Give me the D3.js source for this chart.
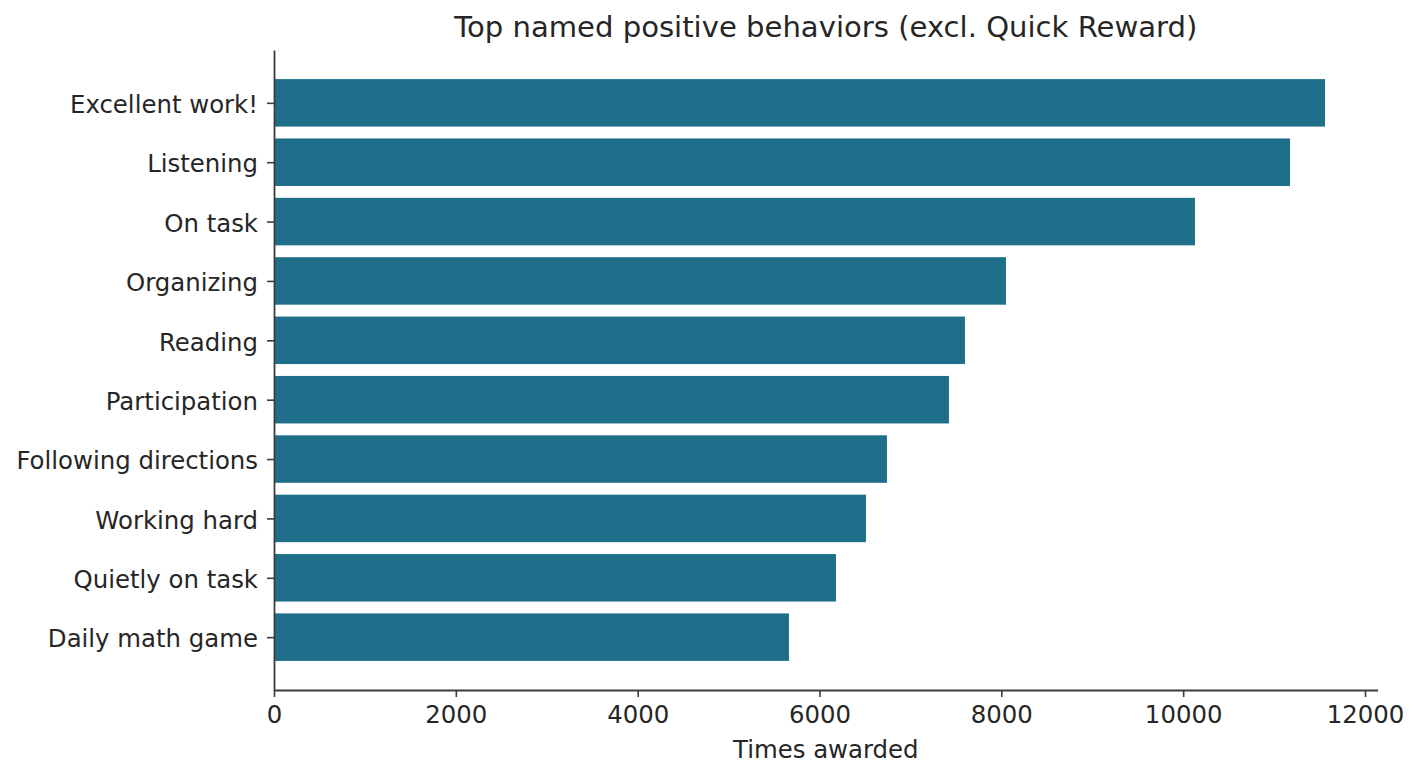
<!DOCTYPE html>
<html lang="en">

<head>
    <meta charset="UTF-8">
    <title>Top named positive behaviors</title>
    <script src="https://cdnjs.cloudflare.com/ajax/libs/d3/7.8.5/d3.min.js"></script>
    <style>
        * {
            margin: 0;
            padding: 0;
        }

        body {
            background: #fff;
            font-family: "DejaVu Sans", sans-serif;
        }

        text {
            fill: #262626;
        }

        .domain,
        .tick line {
            stroke: #3d3d3d;
        }
    </style>
</head>

<body>
    <svg id="chart" width="1419" height="778"></svg>

    <script>
        // data
        const behaviors = [
            "Excellent work!",
            "Listening",
            "On task",
            "Organizing",
            "Reading",
            "Participation",
            "Following directions",
            "Working hard",
            "Quietly on task",
            "Daily math game"
        ];
        const timesAwarded = [11560, 11175, 10130, 8051, 7600, 7424, 6742, 6511, 6181, 5664];
        const xTicks = [0, 2000, 4000, 6000, 8000, 10000, 12000];

        const W = 1419, H = 778;
        const m = { top: 50, right: 41, bottom: 88, left: 274 };
        const barH = 0.8;
        const fs = "24.4px";

        const svg = d3.select("#chart");

        // x like matplotlib: 5% margin past the largest bar
        const xMax = d3.max(timesAwarded) * 1.05;
        const x = d3.scaleLinear()
            .domain([0, xMax])
            .range([m.left, m.left + (xMax / 12000) * 1091]);

        // y positions 0..n-1, first one at top, with 5% margins
        const n = behaviors.length;
        const span = (n - 1) + barH;
        const y = d3.scaleLinear()
            .domain([-barH / 2 - 0.05 * span, n - 1 + barH / 2 + 0.05 * span])
            .range([m.top, H - m.bottom]);

        const data = behaviors.map((b, i) => ({ name: b, value: timesAwarded[i], i: i }));

        // bars
        svg.append("g")
            .selectAll("rect")
            .data(data)
            .join("rect")
            .attr("x", x(0))
            .attr("y", d => y(d.i - barH / 2))
            .attr("width", d => x(d.value) - x(0))
            .attr("height", d => y(barH) - y(0))
            .attr("fill", "#1f6f8b");

        // x axis
        const xAxis = svg.append("g")
            .attr("transform", `translate(0,${H - m.bottom})`)
            .call(d3.axisBottom(x)
                .tickValues(xTicks)
                .tickFormat(d3.format("d"))
                .tickSizeInner(7)
                .tickSizeOuter(0)
                .tickPadding(9));

        xAxis.select(".domain").attr("stroke-width", 1.8);
        xAxis.selectAll(".tick line").attr("stroke-width", 1.6);
        xAxis.selectAll(".tick text")
            .attr("font-size", fs)
            .attr("font-family", "DejaVu Sans")
            .attr("fill", "#262626");

        // y axis
        const yAxis = svg.append("g")
            .attr("transform", `translate(${m.left},0)`)
            .call(d3.axisLeft(y)
                .tickValues(d3.range(n))
                .tickFormat(i => behaviors[i])
                .tickSizeInner(7)
                .tickSizeOuter(0)
                .tickPadding(9));

        yAxis.select(".domain").attr("stroke-width", 1.8);
        yAxis.selectAll(".tick line").attr("stroke-width", 1.6);
        yAxis.selectAll(".tick text")
            .attr("font-size", fs)
            .attr("font-family", "DejaVu Sans")
            .attr("fill", "#262626")
            .attr("dy", "0.4em");

        // axis label
        svg.append("text")
            .attr("x", (x.range()[0] + x.range()[1]) / 2)
            .attr("y", 758)
            .attr("text-anchor", "middle")
            .attr("font-size", fs)
            .text("Times awarded");

        // title
        svg.append("text")
            .attr("x", (x.range()[0] + x.range()[1]) / 2)
            .attr("y", 37)
            .attr("text-anchor", "middle")
            .attr("font-size", "29.1px")
            .text("Top named positive behaviors (excl. Quick Reward)");
    </script>
</body>

</html>
